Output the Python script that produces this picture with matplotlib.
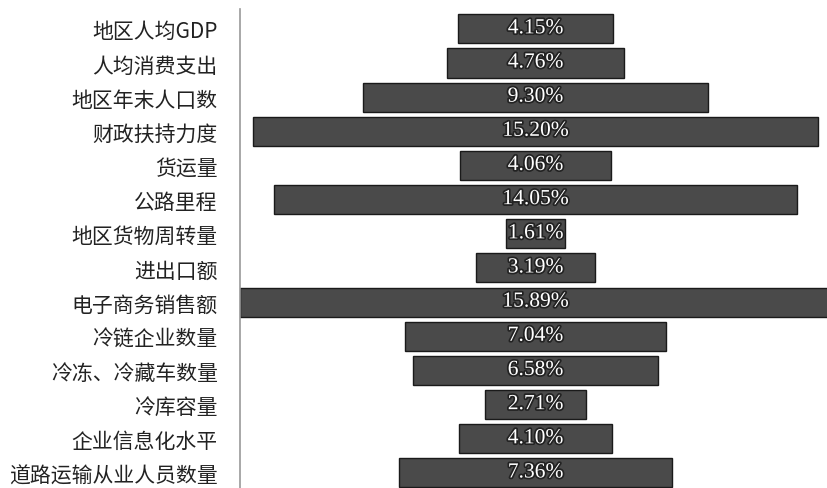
import numpy as np
import matplotlib.pyplot as plt
import matplotlib.patheffects as pe

plt.rcParams['font.family'] = ['Noto Sans CJK SC', 'DejaVu Sans']

# indicator names, top to bottom
labels = ['地区人均GDP', '人均消费支出', '地区年末人口数', '财政扶持力度', '货运量',
          '公路里程', '地区货物周转量', '进出口额', '电子商务销售额', '冷链企业数量',
          '冷冻、冷藏车数量', '冷库容量', '企业信息化水平', '道路运输从业人员数量']
weights = [4.15, 4.76, 9.30, 15.20, 4.06, 14.05, 1.61, 3.19, 15.89, 7.04,
           6.58, 2.71, 4.10, 7.36]

fig = plt.figure(figsize=(8.28, 4.89), dpi=100)
ax = fig.add_axes([240/828, 0, 588/828, 479/489])

y = np.arange(len(labels))
w = np.array(weights)
ax.barh(y, w, left=-w/2, height=0.85, color='#4a4a4a', edgecolor='#1a1a1a', linewidth=1.0)

for yi, v in zip(y, weights):
    ax.text(0, yi, '%.2f%%' % v, ha='center', va='center', fontsize=15.5,
            family='Liberation Serif', color='white',
            path_effects=[pe.withStroke(linewidth=2.5, foreground='#222222')])

ax.set_xlim(-7.95, 7.87)
ax.set_ylim(13.44, -0.58)
ax.set_yticks(y)
ax.set_yticklabels(labels, fontsize=15, color='#222222')
ax.tick_params(axis='y', length=0, pad=16)
ax.set_xticks([])
for s in ['top', 'right', 'bottom']:
    ax.spines[s].set_visible(False)
ax.spines['left'].set_color('#999999')
ax.spines['left'].set_linewidth(1.2)

fig.savefig('out.png', dpi=100)
